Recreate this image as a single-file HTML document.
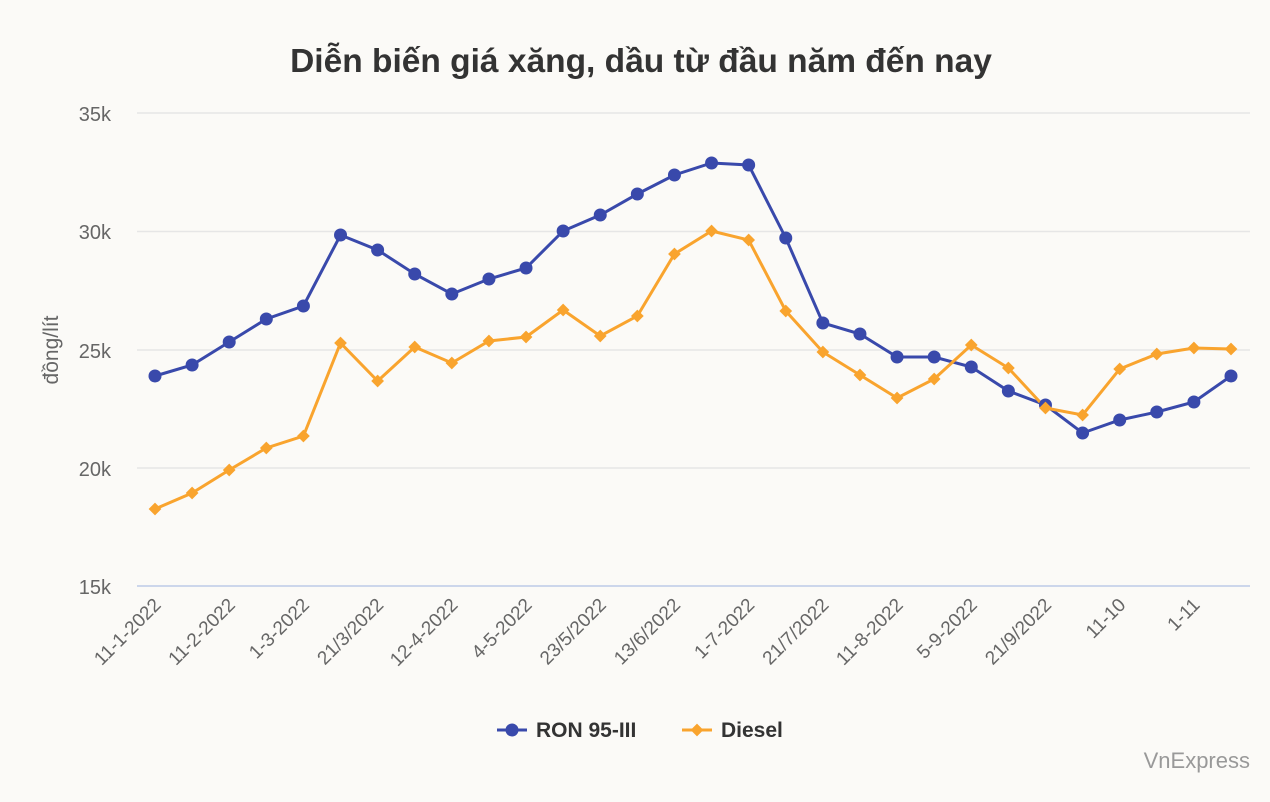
<!DOCTYPE html>
<html><head><meta charset="utf-8"><style>
html,body{margin:0;padding:0;background:#fbfaf7;}
svg{display:block;font-family:"Liberation Sans",sans-serif;}
</style></head><body>
<svg width="1270" height="802" viewBox="0 0 1270 802" xmlns="http://www.w3.org/2000/svg">
<rect width="1270" height="802" fill="#fbfaf7"/>
<text x="641" y="72" text-anchor="middle" font-size="33.5" font-weight="bold" fill="#333">Diễn biến giá xăng, dầu từ đầu năm đến nay</text>
<g stroke="#e6e6e6" stroke-width="1.5">
<line x1="137" x2="1250" y1="113" y2="113"/>
<line x1="137" x2="1250" y1="231.5" y2="231.5"/>
<line x1="137" x2="1250" y1="350" y2="350"/>
<line x1="137" x2="1250" y1="468" y2="468"/>
</g>
<line x1="137" x2="1250" y1="586" y2="586" stroke="#ccd6eb" stroke-width="2"/>
<g font-size="20" fill="#666" text-anchor="end">
<text x="111" y="121">35k</text><text x="111" y="239">30k</text><text x="111" y="358">25k</text><text x="111" y="476">20k</text><text x="111" y="594">15k</text>
</g>
<text transform="translate(58,350) rotate(-90)" text-anchor="middle" font-size="21" fill="#666">đồng/lít</text>
<g font-size="19" fill="#666" text-anchor="end" id="xl"></g>
<polyline id="ron" fill="none" stroke="#3949ab" stroke-width="3"/>
<polyline id="dsl" fill="none" stroke="#f9a42e" stroke-width="3"/>
<g id="m"></g>
<g font-size="21" font-weight="bold" fill="#333">
<line x1="497" x2="527" y1="730" y2="730" stroke="#3949ab" stroke-width="3"/><circle cx="512" cy="730" r="6.5" fill="#3949ab"/>
<text x="536" y="737">RON 95-III</text>
<line x1="682" x2="712" y1="730" y2="730" stroke="#f9a42e" stroke-width="3"/><rect x="692.5" y="725.5" width="9" height="9" fill="#f9a42e" transform="rotate(45 697 730)"/>
<text x="721" y="737">Diesel</text>
</g>
<text x="1250" y="768" text-anchor="end" font-size="22" fill="#999">VnExpress</text>
</svg>
<script>
var ron=[376,365,342,319,306,235,250,274,294,279,268,231,215,194,175,163,165,238,323,334,357,357,367,391,405,433,420,412,402,376];
var dsl=[509,493,470,448,436,343,381,347,363,341,337,310,336,316,254,231,240,311,352,375,398,379,345,368,408,415,369,354,348,349];
var X=function(i){return 155+i*(1231-155)/29;};
var ns="http://www.w3.org/2000/svg";
document.getElementById('ron').setAttribute('points',ron.map((y,i)=>X(i)+','+y).join(' '));
document.getElementById('dsl').setAttribute('points',dsl.map((y,i)=>X(i)+','+y).join(' '));
var m=document.getElementById('m');
ron.forEach((y,i)=>{var c=document.createElementNS(ns,'circle');c.setAttribute('cx',X(i));c.setAttribute('cy',y);c.setAttribute('r',6.5);c.setAttribute('fill','#3949ab');m.appendChild(c);});
dsl.forEach((y,i)=>{var r=document.createElementNS(ns,'rect');var x=X(i);r.setAttribute('x',x-4.5);r.setAttribute('y',y-4.5);r.setAttribute('width',9);r.setAttribute('height',9);r.setAttribute('fill','#f9a42e');r.setAttribute('transform','rotate(45 '+x+' '+y+')');m.appendChild(r);});
var labs=["11-1-2022","11-2-2022","1-3-2022","21/3/2022","12-4-2022","4-5-2022","23/5/2022","13/6/2022","1-7-2022","21/7/2022","11-8-2022","5-9-2022","21/9/2022","11-10","1-11"];
var g=document.getElementById('xl');
labs.forEach((t,k)=>{var x=X(2*k)+7;var e=document.createElementNS(ns,'text');e.setAttribute('x',x);e.setAttribute('y',606);e.setAttribute('transform','rotate(-45 '+x+' 606)');e.textContent=t;g.appendChild(e);});
</script>
</body></html>
